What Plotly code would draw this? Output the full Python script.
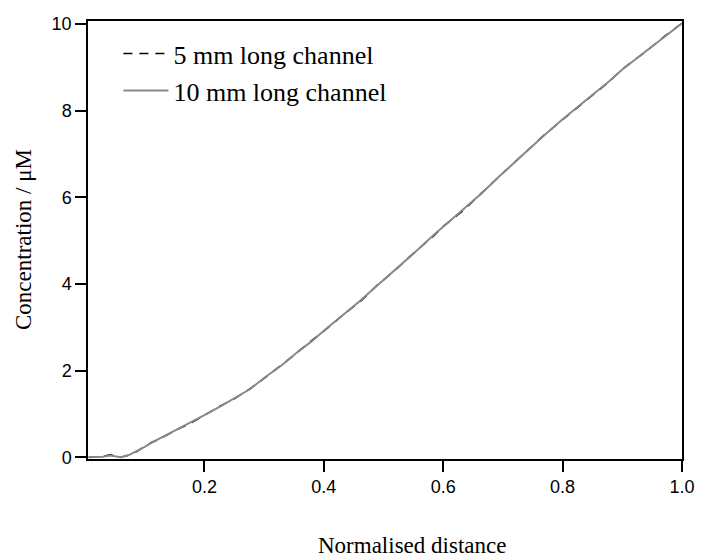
import plotly.graph_objects as go

# Normalised distance and concentration (µM)
x_10mm = [0.006, 0.02, 0.03, 0.042, 0.05, 0.06, 0.075, 0.088, 0.10, 0.111, 0.125, 0.144,
          0.16, 0.175, 0.187, 0.20, 0.226, 0.25, 0.276, 0.30, 0.33, 0.355, 0.38, 0.40,
          0.437, 0.46, 0.49, 0.519, 0.55, 0.585, 0.60, 0.635, 0.665, 0.695, 0.72, 0.75,
          0.766, 0.80, 0.84, 0.878, 0.90, 0.94, 0.97, 1.0]
y_10mm = [0.0, 0.0, 0.01, 0.04, 0.02, 0.0, 0.06, 0.15, 0.24, 0.33, 0.43, 0.56,
          0.67, 0.78, 0.86, 0.97, 1.17, 1.36, 1.57, 1.83, 2.13, 2.42, 2.68, 2.92,
          3.33, 3.60, 3.97, 4.32, 4.70, 5.14, 5.32, 5.73, 6.10, 6.50, 6.82, 7.20,
          7.39, 7.80, 8.24, 8.68, 8.95, 9.38, 9.70, 10.02]

x_5mm = [0.006, 0.02, 0.03, 0.042, 0.05, 0.06, 0.075, 0.088, 0.10, 0.111, 0.125, 0.144,
         0.16, 0.175, 0.187, 0.20, 0.226, 0.25, 0.276, 0.30, 0.33, 0.355, 0.38, 0.40,
         0.437, 0.46, 0.49, 0.519, 0.55, 0.585, 0.60, 0.635, 0.665, 0.695, 0.72, 0.75,
         0.766, 0.80, 0.84, 0.878, 0.90, 0.94, 0.97, 1.0]
y_5mm = [0.0, 0.01, 0.02, 0.06, 0.03, 0.0, 0.05, 0.14, 0.25, 0.34, 0.42, 0.57,
         0.68, 0.77, 0.87, 0.96, 1.18, 1.35, 1.58, 1.82, 2.14, 2.41, 2.70, 2.91,
         3.34, 3.58, 3.98, 4.31, 4.71, 5.12, 5.33, 5.71, 6.11, 6.49, 6.83, 7.19,
         7.40, 7.79, 8.25, 8.67, 8.96, 9.37, 9.71, 10.02]

x_ticks = [0.2, 0.4, 0.6, 0.8, 1.0]
x_tick_labels = ["0.2", "0.4", "0.6", "0.8", "1.0"]
y_ticks = [0, 2, 4, 6, 8, 10]

serif = "Liberation Serif, Times New Roman, serif"

fig = go.Figure()
fig.add_trace(go.Scatter(x=x_5mm, y=y_5mm, mode="lines", name="5 mm long channel",
                         line=dict(color="black", width=1.5, dash="9px,7px")))
fig.add_trace(go.Scatter(x=x_10mm, y=y_10mm, mode="lines", name="10 mm long channel",
                         line=dict(color="#888888", width=2)))

axis_common = dict(showline=True, linecolor="black", linewidth=1.5, mirror=True,
                   ticks="outside", ticklen=11, tickwidth=1.5, tickcolor="black",
                   showgrid=False, zeroline=False,
                   tickfont=dict(family="Liberation Sans, Arial, sans-serif", size=18, color="black"))

fig.update_xaxes(range=[0.005, 1.0], tickvals=x_ticks, ticktext=x_tick_labels, **axis_common)
fig.update_yaxes(range=[-0.04, 10.07], tickvals=y_ticks, **axis_common)

fig.update_layout(
    width=707, height=559,
    margin=dict(l=88, r=14, t=21, b=100),
    plot_bgcolor="white", paper_bgcolor="white",
    showlegend=True,
    legend=dict(x=0.0512, y=0.979, xanchor="left", yanchor="top",
                font=dict(family=serif, size=26, color="black"),
                bgcolor="rgba(0,0,0,0)", itemwidth=45, tracegroupgap=0),
    annotations=[
        dict(text="Normalised distance", xref="paper", yref="paper", x=0.545, y=0,
             yshift=-86, xanchor="center", yanchor="middle", showarrow=False,
             font=dict(family=serif, size=23, color="black")),
        dict(text="Concentration / μM", xref="paper", yref="paper", x=0, y=0.5,
             xshift=-65, xanchor="center", yanchor="middle", showarrow=False, textangle=-90,
             font=dict(family=serif, size=23, color="black")),
    ],
)

fig.write_html("out.html")
